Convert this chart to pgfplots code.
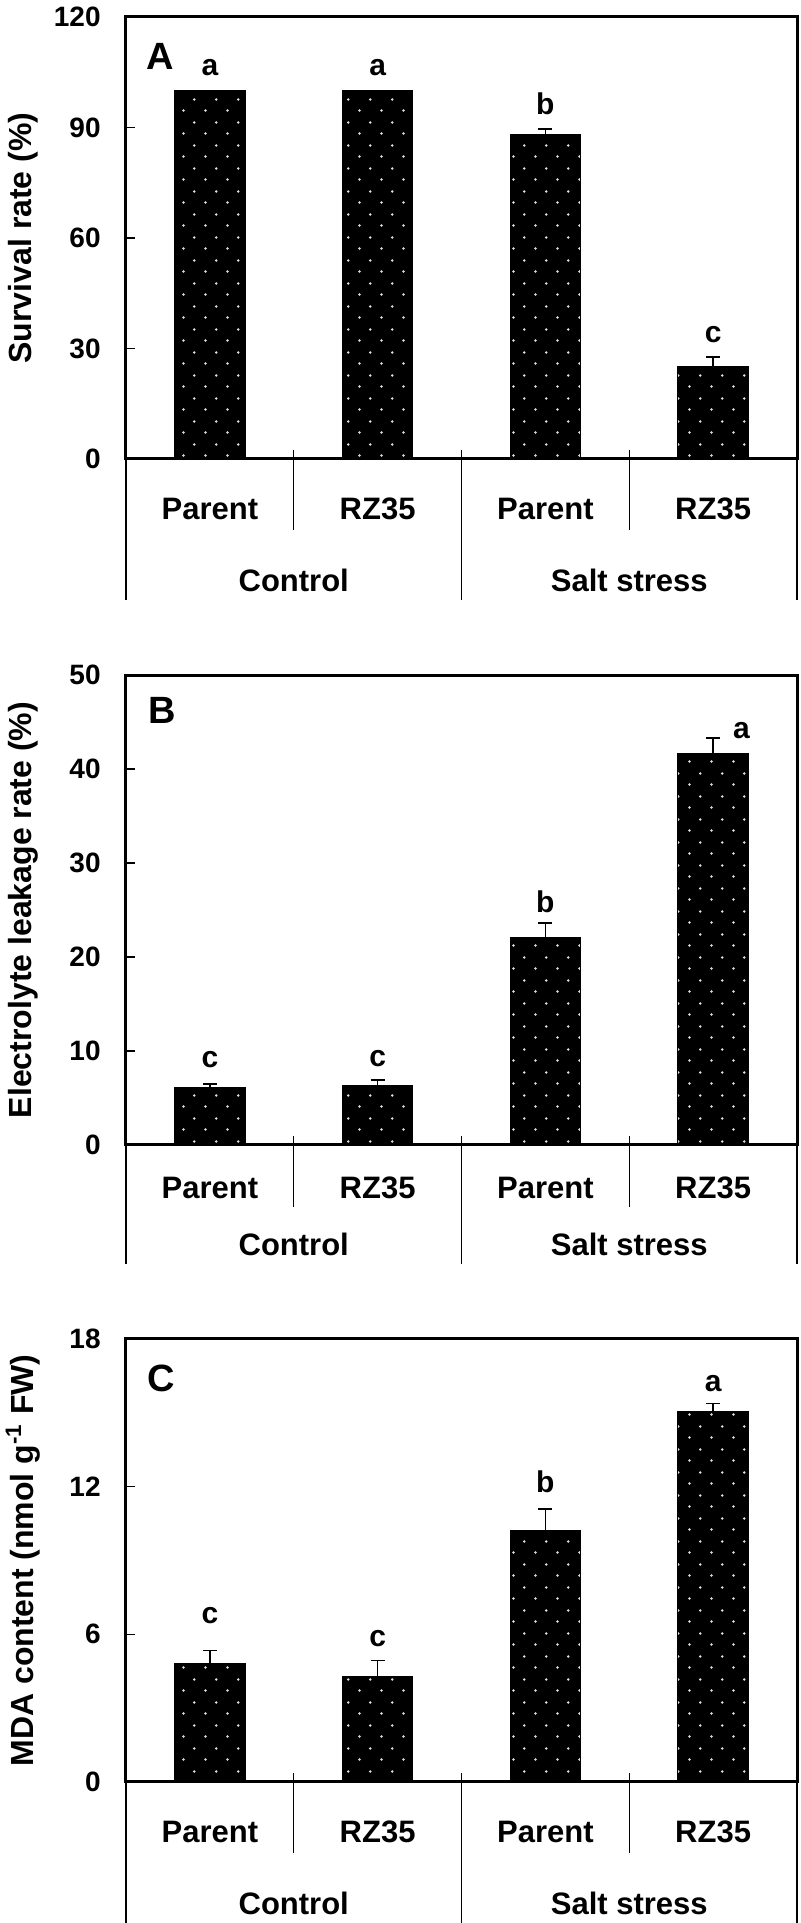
\documentclass[border=0pt]{standalone}
\usepackage{fontspec}
\setmainfont{Liberation Sans}
\usepackage{pgfplots}
\pgfplotsset{compat=1.18}
\usetikzlibrary{patterns.meta}
\tikzdeclarepattern{
  name=bardots,
  type=uncolored,
  bounding box={(0pt,0pt) and (11.15pt,11.25pt)},
  tile size={(11.15pt,11.25pt)},
  code={
    \fill (2.8pt,2.8pt) circle (0.7pt);
    \fill (8.375pt,8.425pt) circle (0.7pt);
  }
}
\newcommand{\fs}[1]{\fontsize{#1}{#1}\selectfont\bfseries}

\pgfplotsset{
  panel/.style={
    scale only axis, width=335.5pt, anchor=south west,
    axis line style={line width=1.5pt},
    xmin=-0.5, xmax=3.5, ymin=0,
    xtick=\empty,
    ytick pos=left, tick align=inside, major tick length=4.5pt,
    every tick/.style={black, line width=0.8pt},
    yticklabel style={font=\fs{14}, inner sep=0pt, xshift=-12.5pt},
    /pgf/number format/assume math mode=true,
    ylabel style={font=\fs{16}, at={(axis description cs:-0.1535,0.5)}, anchor=center},
    clip=false,
    bar width=0.42,
  },
  mybar/.style={ybar, fill=black, draw=black, line width=0.6pt,
    postaction={pattern=bardots, pattern color=black!12},
    error bars/.cd, y dir=plus, y explicit, error mark=-,
    error bar style={line width=0.8pt, black},
    error mark options={rotate=90, mark size=3.5pt, line width=0.8pt, black}},
}

\begin{document}
\begin{tikzpicture}
\useasboundingbox (0pt,0pt) rectangle (400pt,961.5pt);

% ---------------- Panel A ----------------
\begin{axis}[panel, at={(63pt,732pt)}, height=221pt, ymax=120,
  ytick={0,30,60,90,120}, ylabel={Survival rate (\%)}]
\addplot[mybar] table[x=x, y=y, y error=e] {
x y e
0 100 0
1 100 0
2 88 1.6
3 25 2.7
};
\node[font=\fs{19}] at (rel axis cs:0.0507,0.91) {A};
\node[font=\fs{15}, anchor=base] at (axis cs:0,104) {a};
\node[font=\fs{15}, anchor=base] at (axis cs:1,104) {a};
\node[font=\fs{15}, anchor=base] at (axis cs:2,93.4) {b};
\node[font=\fs{15}, anchor=base] at (axis cs:3,31.5) {c};
\draw[line width=0.6pt] (rel axis cs:0,0) -- ++(0pt,-70.5pt);
\draw[line width=0.6pt] (rel axis cs:1,0) -- ++(0pt,-70.5pt);
\draw[line width=0.6pt] (axis cs:1.5,0) ++(0pt,4.25pt) -- ++(0pt,-74.75pt);
\draw[line width=0.6pt] (axis cs:0.5,0) ++(0pt,4.25pt) -- ++(0pt,-39.75pt);
\draw[line width=0.6pt] (axis cs:2.5,0) ++(0pt,4.25pt) -- ++(0pt,-39.75pt);
\node[font=\fs{15.5}, yshift=-25pt] at (axis cs:0,0) {Parent};
\node[font=\fs{15.5}, yshift=-25pt] at (axis cs:1,0) {RZ35};
\node[font=\fs{15.5}, yshift=-25pt] at (axis cs:2,0) {Parent};
\node[font=\fs{15.5}, yshift=-25pt] at (axis cs:3,0) {RZ35};
\node[font=\fs{15.5}, yshift=-60.5pt] at (axis cs:0.5,0) {Control};
\node[font=\fs{15.5}, yshift=-60.5pt] at (axis cs:2.5,0) {Salt stress};
\end{axis}

% ---------------- Panel B ----------------
\begin{axis}[panel, at={(63pt,389pt)}, height=235pt, ymax=50,
  ytick={0,10,20,30,40,50}, ylabel={Electrolyte leakage rate (\%)}]
\addplot[mybar] table[x=x, y=y, y error=e] {
x y e
0 6.06 0.43
1 6.28 0.63
2 22.05 1.55
3 41.6 1.7
};
\node[font=\fs{19}] at (rel axis cs:0.054,0.925) {B};
\node[font=\fs{15}, anchor=base] at (axis cs:0,8.2) {c};
\node[font=\fs{15}, anchor=base] at (axis cs:1,8.3) {c};
\node[font=\fs{15}, anchor=base] at (axis cs:2,24.7) {b};
\node[font=\fs{15}, anchor=base west, xshift=6.5pt] at (axis cs:3,43.2) {a};
\draw[line width=0.6pt] (rel axis cs:0,0) -- ++(0pt,-59.5pt);
\draw[line width=0.6pt] (rel axis cs:1,0) -- ++(0pt,-59.5pt);
\draw[line width=0.6pt] (axis cs:1.5,0) ++(0pt,4.25pt) -- ++(0pt,-63.75pt);
\draw[line width=0.6pt] (axis cs:0.5,0) ++(0pt,4.25pt) -- ++(0pt,-35.25pt);
\draw[line width=0.6pt] (axis cs:2.5,0) ++(0pt,4.25pt) -- ++(0pt,-35.25pt);
\node[font=\fs{15.5}, yshift=-21.5pt] at (axis cs:0,0) {Parent};
\node[font=\fs{15.5}, yshift=-21.5pt] at (axis cs:1,0) {RZ35};
\node[font=\fs{15.5}, yshift=-21.5pt] at (axis cs:2,0) {Parent};
\node[font=\fs{15.5}, yshift=-21.5pt] at (axis cs:3,0) {RZ35};
\node[font=\fs{15.5}, yshift=-49.5pt] at (axis cs:0.5,0) {Control};
\node[font=\fs{15.5}, yshift=-49.5pt] at (axis cs:2.5,0) {Salt stress};
\end{axis}

% ---------------- Panel C ----------------
\begin{axis}[panel, at={(63pt,70.5pt)}, height=221.5pt, ymax=18,
  ytick={0,6,12,18}, ylabel={MDA content (nmol g\textsuperscript{-1} FW)}]
\addplot[mybar] table[x=x, y=y, y error=e] {
x y e
0 4.8 0.55
1 4.28 0.65
2 10.21 0.88
3 15.07 0.31
};
\node[font=\fs{19}] at (rel axis cs:0.052,0.91) {C};
\node[font=\fs{15}, anchor=base] at (axis cs:0,6.45) {c};
\node[font=\fs{15}, anchor=base] at (axis cs:1,5.5) {c};
\node[font=\fs{15}, anchor=base] at (axis cs:2,11.76) {b};
\node[font=\fs{15}, anchor=base] at (axis cs:3,15.87) {a};
\draw[line width=0.6pt] (rel axis cs:0,0) -- ++(0pt,-70.5pt);
\draw[line width=0.6pt] (rel axis cs:1,0) -- ++(0pt,-70.5pt);
\draw[line width=0.6pt] (axis cs:1.5,0) ++(0pt,4.25pt) -- ++(0pt,-74.75pt);
\draw[line width=0.6pt] (axis cs:0.5,0) ++(0pt,4.25pt) -- ++(0pt,-39.75pt);
\draw[line width=0.6pt] (axis cs:2.5,0) ++(0pt,4.25pt) -- ++(0pt,-39.75pt);
\node[font=\fs{15.5}, yshift=-25pt] at (axis cs:0,0) {Parent};
\node[font=\fs{15.5}, yshift=-25pt] at (axis cs:1,0) {RZ35};
\node[font=\fs{15.5}, yshift=-25pt] at (axis cs:2,0) {Parent};
\node[font=\fs{15.5}, yshift=-25pt] at (axis cs:3,0) {RZ35};
\node[font=\fs{15.5}, yshift=-60.5pt] at (axis cs:0.5,0) {Control};
\node[font=\fs{15.5}, yshift=-60.5pt] at (axis cs:2.5,0) {Salt stress};
\end{axis}
\end{tikzpicture}
\end{document}
